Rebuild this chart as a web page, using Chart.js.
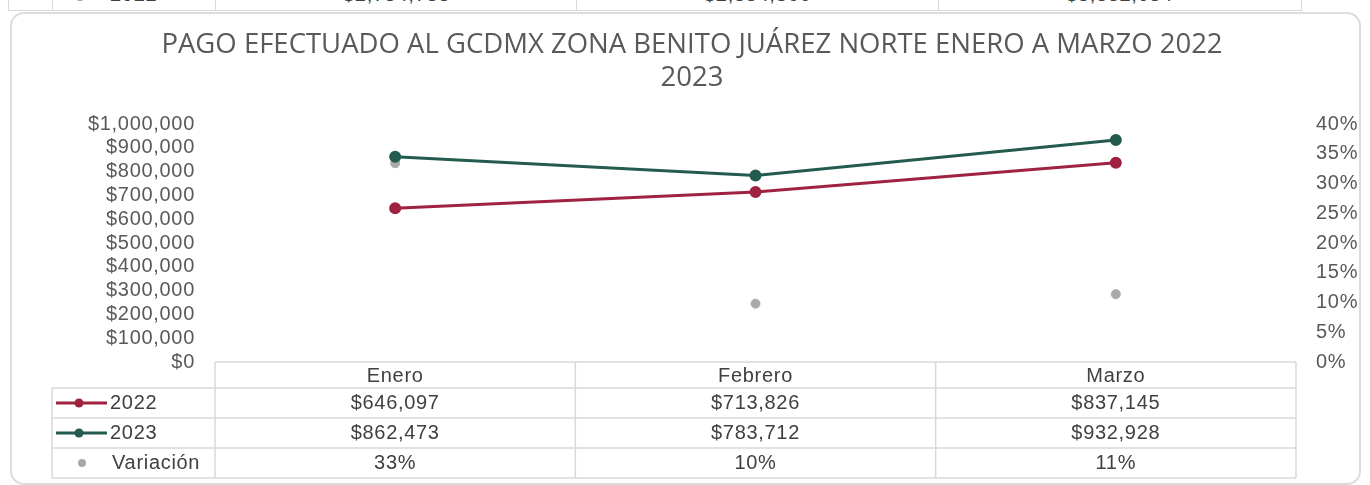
<!DOCTYPE html>
<html>
<head>
<meta charset="utf-8">
<script src="https://cdn.jsdelivr.net/npm/chart.js@4.4.1/dist/chart.umd.min.js"></script>
<style>
  html, body { margin:0; padding:0; background:#fff; width:1370px; height:485px; overflow:hidden; font-family:"Liberation Sans", Arial, sans-serif; }
  #strip { position:absolute; left:0; top:0; width:1370px; height:11px; overflow:hidden; }
  #strip .vl { position:absolute; top:0; width:1px; height:11px; background:#d9d9d9; }
  #strip .hl { position:absolute; left:8px; top:10px; width:1293px; height:1px; background:#d9d9d9; }
  #strip .dot { position:absolute; left:76px; top:-7px; width:8px; height:8px; border-radius:50%; background:#c98a99; }
  #strip span { position:absolute; top:-17px; font-size:20px; letter-spacing:0.7px; color:#404040; white-space:nowrap; }
  #card { position:absolute; left:10px; top:12px; width:1347px; height:469px; border:2px solid #dcdcdc; border-radius:14px; }
  #chart { position:absolute; left:0; top:0; }
</style>
</head>
<body>
<div id="strip">
  <div class="vl" style="left:8px"></div>
  <div class="vl" style="left:52px"></div>
  <div class="vl" style="left:215px"></div>
  <div class="vl" style="left:576px"></div>
  <div class="vl" style="left:938px"></div>
  <div class="vl" style="left:1301px"></div>
  <div class="hl"></div>
  <div class="dot"></div>
  <span style="left:110px">2022</span>
  <span style="left:343px">$2,754,783</span>
  <span style="left:704px">$2,854,866</span>
  <span style="left:1066px">$3,332,054</span>
</div>
<div id="card"></div>
<canvas id="chart" width="1370" height="485"></canvas>
<script>
const months = ['Enero', 'Febrero', 'Marzo'];
const pago2022 = [646097, 713826, 837145];
const pago2023 = [862473, 783712, 932928];
// variacion en %, la tabla muestra el valor redondeado
const variacion = [33.4, 9.8, 11.4];

const titleLines = ['PAGO EFECTUADO AL GCDMX ZONA BENITO JUÁREZ NORTE ENERO A MARZO 2022', '2023'];

const colors = { y2022: '#9F2241', y2023: '#235B4E', variacion: '#A9A9A9' };

const money = v => '$' + Number(v).toLocaleString('en-US');
const pct = v => Math.round(v) + '%';

const tableFont = '20px "Liberation Sans", Arial, sans-serif';
const spacing = '0.7px';

// el texto de Excel se ve un poco mas ancho
const letterSpacing = {
  id: 'letterSpacing',
  beforeDraw(chart) { chart.ctx.letterSpacing = spacing; }
};

// titulo en dos lineas
const titleDraw = {
  id: 'titleDraw',
  afterDraw(chart) {
    const ctx = chart.ctx;
    ctx.save();
    ctx.letterSpacing = '0px';
    ctx.font = '27.5px "Open Sans", sans-serif';
    ctx.fillStyle = '#595959';
    ctx.textAlign = 'center';
    ctx.textBaseline = 'middle';
    titleLines.forEach((t, i) => ctx.fillText(t, 692, 45 + i * 33));
    ctx.restore();
  }
};

// tabla de datos debajo del grafico (como en Excel)
const dataTable = {
  id: 'dataTable',
  afterDraw(chart) {
    const ctx = chart.ctx;
    const a = chart.chartArea;
    const x = chart.scales.x;
    const band = a.width / months.length;
    const legLeft = 52;
    const headH = 26, rowH = 30;
    const rows = [
      { name: '2022', color: colors.y2022, line: true, vals: pago2022.map(money) },
      { name: '2023', color: colors.y2023, line: true, vals: pago2023.map(money) },
      { name: 'Variación', color: colors.variacion, line: false, vals: variacion.map(pct) }
    ];
    const bottom = a.bottom + headH + rowH * rows.length;

    ctx.save();
    ctx.letterSpacing = spacing;
    ctx.strokeStyle = '#d9d9d9';
    ctx.lineWidth = 1.5;
    ctx.beginPath();
    ctx.moveTo(a.left, a.bottom); ctx.lineTo(a.right, a.bottom);
    for (let r = 0; r <= rows.length; r++) {
      const y = a.bottom + headH + rowH * r;
      ctx.moveTo(legLeft, y); ctx.lineTo(a.right, y);
    }
    ctx.moveTo(legLeft, a.bottom + headH); ctx.lineTo(legLeft, bottom);
    for (let i = 0; i <= months.length; i++) {
      const xx = a.left + band * i;
      ctx.moveTo(xx, a.bottom); ctx.lineTo(xx, bottom);
    }
    ctx.stroke();

    ctx.font = tableFont;
    ctx.fillStyle = '#404040';
    ctx.textBaseline = 'middle';
    ctx.textAlign = 'center';
    months.forEach((m, i) => ctx.fillText(m, x.getPixelForValue(i), a.bottom + headH / 2 + 1));

    rows.forEach((row, r) => {
      const cy = a.bottom + headH + rowH * r + rowH / 2;
      ctx.textAlign = 'center';
      ctx.fillStyle = '#404040';
      row.vals.forEach((v, i) => ctx.fillText(v, x.getPixelForValue(i), cy));

      if (row.line) {
        ctx.strokeStyle = row.color;
        ctx.lineWidth = 3;
        ctx.beginPath();
        ctx.moveTo(56, cy); ctx.lineTo(107, cy);
        ctx.stroke();
        ctx.fillStyle = row.color;
        ctx.beginPath(); ctx.arc(79, cy, 4.5, 0, Math.PI * 2); ctx.fill();
        ctx.fillStyle = '#404040';
        ctx.textAlign = 'left';
        ctx.fillText(row.name, 110, cy);
      } else {
        ctx.fillStyle = row.color;
        ctx.beginPath(); ctx.arc(82, cy, 4, 0, Math.PI * 2); ctx.fill();
        ctx.fillStyle = '#404040';
        ctx.textAlign = 'left';
        ctx.fillText(row.name, 112, cy);
      }
    });
    ctx.restore();
  }
};

const tickFont = { family: '"Liberation Sans", Arial, sans-serif', size: 20 };

new Chart(document.getElementById('chart'), {
  type: 'line',
  data: {
    labels: months,
    datasets: [
      { label: '2022', data: pago2022, yAxisID: 'y', borderColor: colors.y2022, backgroundColor: colors.y2022,
        borderWidth: 3, pointRadius: 4.5, pointHoverRadius: 4.5, tension: 0 },
      { label: '2023', data: pago2023, yAxisID: 'y', borderColor: colors.y2023, backgroundColor: colors.y2023,
        borderWidth: 3, pointRadius: 4.5, pointHoverRadius: 4.5, tension: 0 },
      { label: 'Variación', data: variacion, yAxisID: 'y1', showLine: false, borderColor: colors.variacion,
        backgroundColor: colors.variacion, pointRadius: 4.5, pointHoverRadius: 4.5 }
    ]
  },
  options: {
    responsive: false,
    animation: false,
    layout: { padding: { left: 0, right: 0, top: 124, bottom: 123 } },
    plugins: {
      legend: { display: false },
      tooltip: { enabled: false },
      title: { display: false }
    },
    scales: {
      x: { type: 'category', display: false, offset: true },
      y: {
        position: 'left', min: 0, max: 1000000,
        grid: { display: false, drawTicks: false }, border: { display: false },
        ticks: { stepSize: 100000, autoSkip: false, callback: v => money(v), color: '#595959', font: tickFont, padding: 20 },
        afterFit: s => { s.width = 215; }
      },
      y1: {
        position: 'right', min: 0, max: 40,
        grid: { display: false, drawTicks: false }, border: { display: false },
        ticks: { stepSize: 5, autoSkip: false, callback: v => v + '%', color: '#595959', font: tickFont, padding: 20 },
        afterFit: s => { s.width = 74; }
      }
    }
  },
  plugins: [letterSpacing, dataTable, titleDraw]
});
</script>
</body>
</html>
